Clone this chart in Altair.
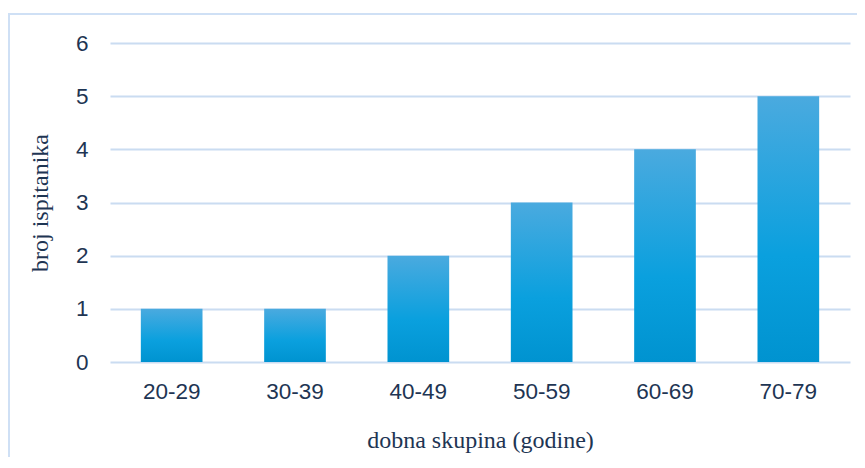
import altair as alt
import pandas as pd

categories = ["20-29", "30-39", "40-49", "50-59", "60-69", "70-79"]
values = [1, 1, 2, 3, 4, 5]

df = pd.DataFrame({"grupa": categories, "broj": values})

text_color = "#1e3553"
grid_color = "#cadcf1"
border_color = "#cfe0f5"

bars = alt.Chart(df).mark_bar(
    color=alt.Gradient(
        gradient="linear",
        stops=[
            alt.GradientStop(color="#4aaadf", offset=0),
            alt.GradientStop(color="#0aa0de", offset=0.6),
            alt.GradientStop(color="#0093d0", offset=1),
        ],
        x1=1, x2=1, y1=0, y2=1,
    )
).encode(
    x=alt.X("grupa:N", sort=categories,
            scale=alt.Scale(paddingInner=0.5, paddingOuter=0.25),
            axis=alt.Axis(title="dobna skupina (godine)", labelAngle=0,
                          ticks=False, domain=False, labelPadding=18,
                          titlePadding=26)),
    y=alt.Y("broj:Q", scale=alt.Scale(domain=[0, 6]),
            axis=alt.Axis(title="broj ispitanika", values=[0, 1, 2, 3, 4, 5, 6],
                          ticks=False, domain=False, labelPadding=22,
                          titlePadding=23, gridColor=grid_color, gridWidth=2)),
)

border_top = alt.Chart(df).mark_rule(
    stroke=border_color, strokeWidth=2
).encode(
    x=alt.value(-102), x2=alt.value(760), y=alt.value(-29),
)

border_left = alt.Chart(df).mark_rule(
    stroke=border_color, strokeWidth=2
).encode(
    x=alt.value(-101), y=alt.value(-30), y2=alt.value(450),
)

chart = alt.layer(border_top, border_left, bars).properties(
    width=740, height=319,
    autosize=alt.AutoSizeParams(type="none"),
    padding={"left": 102, "top": 35, "right": 7, "bottom": 95},
).configure_view(strokeWidth=0).configure_axis(
    labelFont="Liberation Sans", labelFontSize=22.5, labelColor=text_color,
    titleFont="Liberation Serif", titleFontSize=24, titleColor=text_color,
    titleFontWeight="normal",
)

chart.save("out.html", embed_options={"renderer": "svg", "actions": False})
